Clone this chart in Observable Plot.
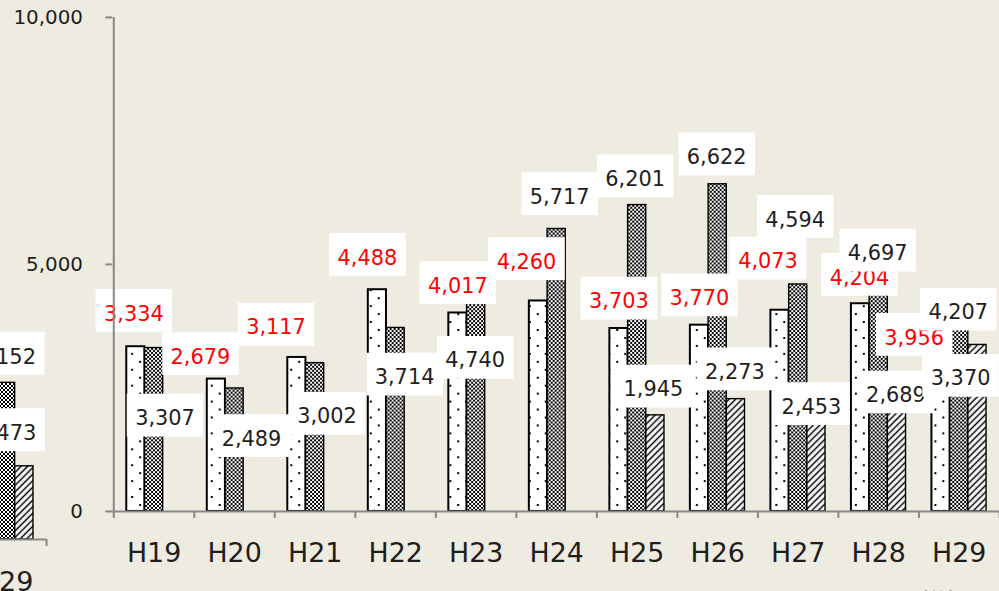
<!DOCTYPE html>
<html><head><meta charset="utf-8">
<script src="https://cdn.jsdelivr.net/npm/d3@7"></script>
<script src="https://cdn.jsdelivr.net/npm/@observablehq/plot@0.6"></script>
<style>
html,body{margin:0;padding:0;background:#eeebe1;overflow:hidden;width:999px;height:591px;}
#stage{position:relative;width:999px;height:591px;overflow:hidden;}
#frag{position:absolute;left:-958.8px;top:25px;}
#main{position:absolute;left:0;top:0;}
</style></head><body>
<svg width="0" height="0" style="position:absolute"><defs>
  <pattern id="pDots" patternUnits="userSpaceOnUse" width="16" height="16">
    <rect width="16" height="16" fill="#fff"/>
    <rect x="4" y="3" width="2" height="2" fill="#000"/>
    <rect x="12" y="11" width="2" height="2" fill="#000"/>
  </pattern>
  <pattern id="pCheck" patternUnits="userSpaceOnUse" width="4" height="4">
    <rect width="4" height="4" fill="#000"/>
    <rect width="2" height="2" fill="#fff"/>
    <rect x="2" y="2" width="2" height="2" fill="#fff"/>
  </pattern>
  <pattern id="pHatch" patternUnits="userSpaceOnUse" width="4.6" height="4.6" patternTransform="rotate(45)">
    <rect width="4.6" height="4.6" fill="#fff"/>
    <line x1="2.3" y1="0" x2="2.3" y2="4.6" stroke="#000" stroke-width="1.5"/>
  </pattern>
</defs></svg>
<div id="stage"><div id="frag"></div><div id="main"></div></div>
<script>
// ---- data ----
const categories = ["H19","H20","H21","H22","H23","H24","H25","H26","H27","H28","H29"];
const dottedValues  = [3334,2679,3117,4488,4017,4260,3703,3770,4073,4204,3956];
const checkerValues = [3307,2489,3002,3714,4740,5717,6201,6622,4594,4697,4207];
const hatchedValues = [null,null,null,null,null,null,1945,2273,2453,2689,3370];
const yTicks = [0,5000,10000];
const unitLabel = "（件）";
// neighbouring chart, of which only the last category is visible at the left edge
const neighbourDotted  = [null,null,null,null,null,null,null,null,null,null,null];
const neighbourChecker = [null,null,null,null,null,null,null,null,null,null,3152];
const neighbourHatched = [null,null,null,null,null,null,null,null,null,null,1473];
const neighbourVisibleTicks = ["H29"];

// ---- label placement (px offsets from each bar's top centre) ----
const mainLabelOffsets = [
  [[-2,-34],[-16,-23],[-21,-31],[-10,-33],[0,-28],[-12,-40],[0,-28],[0,-28],[-12,-50],[-1,-27],[-27,21]],
  [[11,70],[17,50],[12,53],[9,49],[-1,83],[3,-33],[-2,-27],[-1,-28],[-3,-66],[-1,-27],[-1,8]],
  [null,null,null,null,null,null,[-2,-27],[-1,-28],[-5,16],[-1,16],[-17,33]]
];
const neighbourLabelOffsets = [
  [null,null,null,null,null,null,null,null,null,null,null],
  [null,null,null,null,null,null,null,null,null,null,[0,-27]],
  [null,null,null,null,null,null,null,null,null,null,[-18,-34]]
];

// ---- layout / style ----
const W = 1005, H = 591, ML = 113, MR = 0, MT = 17, MB = 77;
const bandW = (W - ML - MR) / categories.length;
const outerPad = 0.71;
const barW = bandW / (3 + 2 * outerPad);
const padPx = outerPad * barW;
const plotH = H - MT - MB;
const axisGray = "#878787";
const textDark = "#1e1e1e";
const fills = ["url(#pDots)", "url(#pCheck)", "url(#pHatch)"];
const strokeWidths = [2, 1.4, 1.4];
const labelColors = ["#ff0000", textDark, textDark];
const fmt = d3.format(",");
const boxSymbol = {draw(ctx) { ctx.moveTo(-38.5,-21.5); ctx.lineTo(38.5,-21.5); ctx.lineTo(38.5,21.5); ctx.lineTo(-38.5,21.5); ctx.closePath(); }};

function makeChart(seriesValues, labelOffsets, opts) {
  const rows = seriesValues.map(vals => categories.map((c, i) => ({cat: c, v: vals[i]})).filter(d => d.v != null));
  const bars = rows.map((r, s) => Plot.barY(r, {
    x: "cat", y: "v", fill: fills[s], stroke: "#000", strokeWidth: strokeWidths[s],
    insetLeft: padPx + s * barW, insetRight: padPx + (2 - s) * barW
  }));
  const labels = [];
  seriesValues.forEach((vals, s) => {
    categories.forEach((c, i) => {
      const off = labelOffsets[s][i];
      if (vals[i] == null || !off) return;
      const d = [{cat: c, v: vals[i]}];
      const dx = (s - 1) * barW + off[0];
      labels.push(Plot.dot(d, {x: "cat", y: "v", dx, dy: off[1] - 2.5, symbol: boxSymbol, r: 10, fill: "#fff", stroke: "none"}));
      labels.push(Plot.text(d, {x: "cat", y: "v", dx, dy: off[1] + 1, text: d => fmt(d.v), fill: labelColors[s], fontSize: 21}));
    });
  });
  const marks = [
    ...bars,
    Plot.ruleY([0], {stroke: axisGray, strokeWidth: 2}),
    Plot.tickX(categories, {x: d => d, dx: -bandW / 2, insetTop: plotH, insetBottom: -7, stroke: axisGray, strokeWidth: 2}),
    Plot.tickX([categories[categories.length - 1]], {x: d => d, dx: bandW / 2, insetTop: plotH, insetBottom: -7, stroke: axisGray, strokeWidth: 2}),
    Plot.axisX(opts.xTicks, {tickSize: 0, tickPadding: 32, fontSize: 27, fill: textDark, label: null}),
    ...labels
  ];
  if (opts.yAxis) {
    marks.push(
      Plot.tickX([categories[0]], {x: d => d, dx: -bandW / 2, stroke: axisGray, strokeWidth: 2}),
      Plot.axisY(yTicks, {tickSize: 7, tickPadding: 23, tickFormat: fmt, fontSize: 20, stroke: axisGray, strokeWidth: 2, fill: textDark, label: null})
    );
  }
  if (opts.unit) marks.push(Plot.text([unitLabel], {text: d => d, frameAnchor: "bottom-right", textAnchor: "end", lineAnchor: "top", dx: -30, dy: 82, fontSize: 21, fill: textDark, fontFamily: "Noto Sans CJK JP"}));
  return Plot.plot({
    width: W, height: H, marginLeft: ML, marginRight: MR, marginTop: MT, marginBottom: MB,
    style: {background: "transparent", fontFamily: "DejaVu Sans", overflow: "visible"},
    x: {domain: categories, padding: 0, label: null},
    y: {domain: [0, 10000], label: null},
    marks
  });
}

document.getElementById("frag").append(makeChart([neighbourDotted, neighbourChecker, neighbourHatched], neighbourLabelOffsets, {xTicks: neighbourVisibleTicks, yAxis: false, unit: false}));
document.getElementById("main").append(makeChart([dottedValues, checkerValues, hatchedValues], mainLabelOffsets, {xTicks: categories, yAxis: true, unit: true}));
</script>
</body></html>
